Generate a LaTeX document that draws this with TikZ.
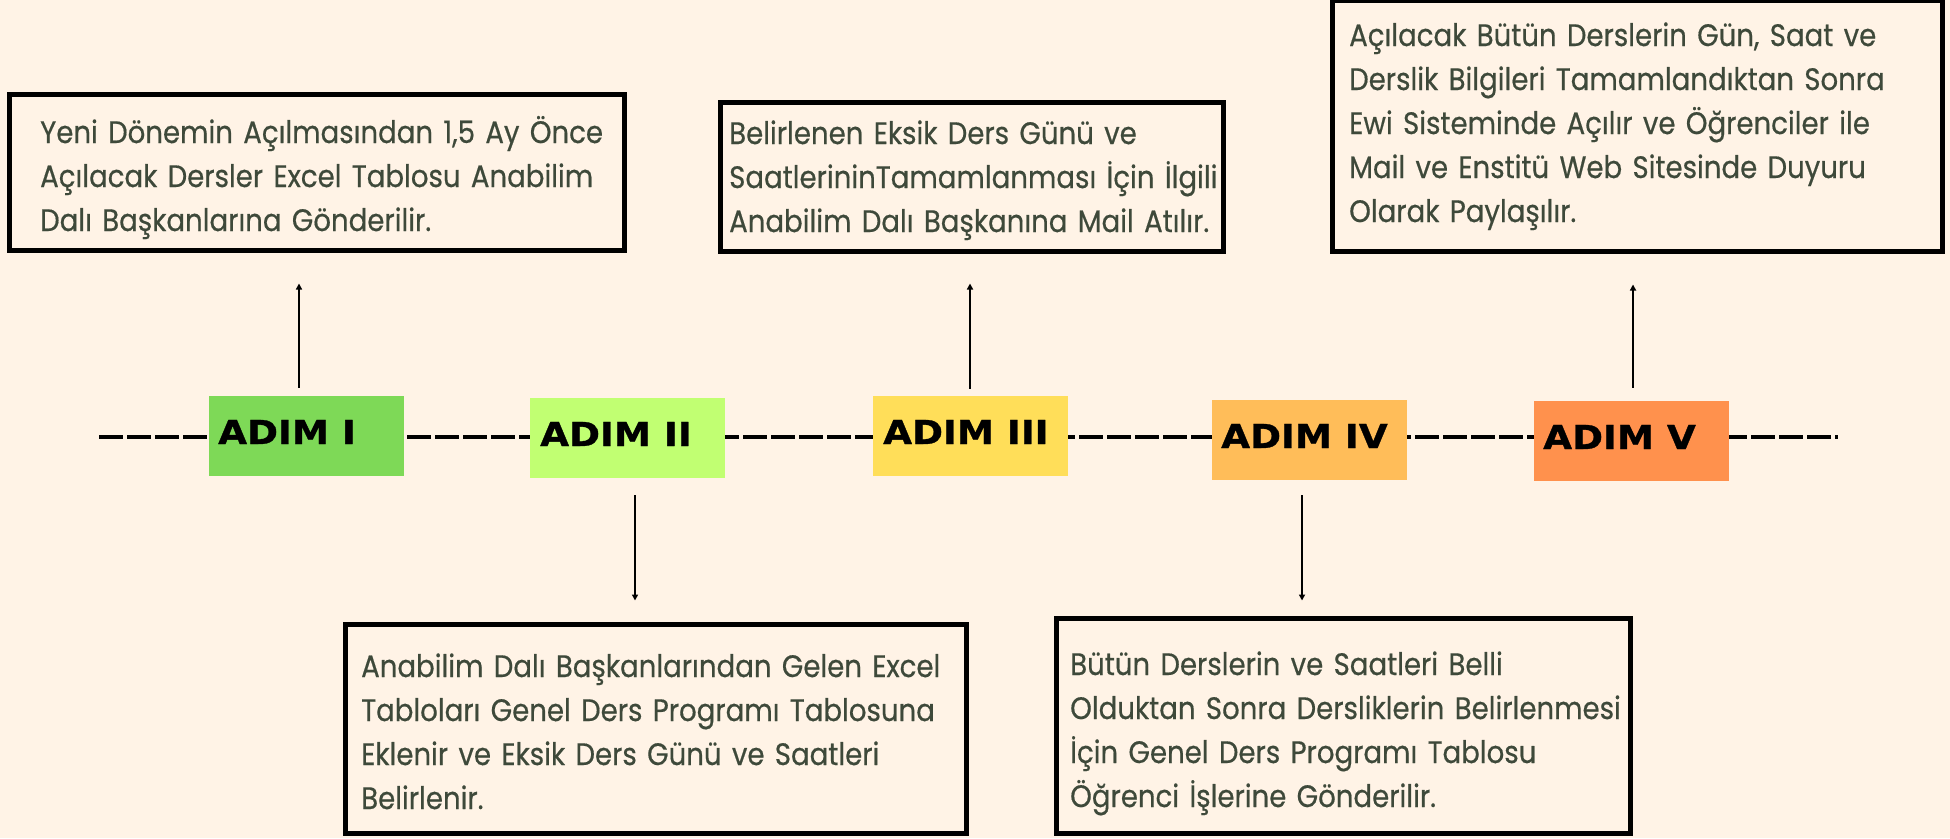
\documentclass[tikz,border=0pt]{standalone}
\usepackage{fontspec}
\setmainfont{Poppins}
\newfontfamily\bodyfont[FakeStretch=0.89,FakeBold=0.5]{Poppins}
\newfontfamily\adimfont[FakeStretch=1.13,FakeBold=1]{DejaVu Sans}
\usetikzlibrary{arrows.meta,calc}
\definecolor{bg}{RGB}{255,243,230}
\definecolor{txt}{RGB}{62,73,58}
\definecolor{cA}{RGB}{126,217,87}
\definecolor{cB}{RGB}{193,255,114}
\definecolor{cC}{RGB}{255,222,89}
\definecolor{cD}{RGB}{255,189,89}
\definecolor{cE}{RGB}{255,145,77}
\begin{document}
\begin{tikzpicture}[x=1pt,y=-1pt,
  descbox/.style={rectangle,draw=black,line width=5pt,fill=bg,inner sep=0pt},
  desctext/.style={anchor=base west,inner sep=0pt,text width=640pt,align=left,text=txt,font=\bodyfont\fontsize{31}{44}\selectfont},
  stepbox/.style={rectangle,inner sep=0pt,minimum width=195pt,minimum height=80pt},
  steptext/.style={anchor=base west,inner sep=0pt,text=black,font=\adimfont\bfseries\fontsize{33}{36}\selectfont},
  conn/.style={line width=2pt,-{Triangle[length=6pt,width=6pt]}},
  timeline/.style={line width=4.5pt,dash pattern=on 24pt off 4pt}]
\useasboundingbox (0,0) rectangle (1950,838);
\fill[bg] (0,0) rectangle (1950,838);
% timeline
\coordinate (tlA) at (99,437);
\coordinate (tlB) at (1838,437);
\draw[timeline] (tlA) -- (tlB);
% step boxes
\node[stepbox,fill=cA] (a1) at (306.5,436) {};
\node[stepbox,fill=cB] (a2) at (627.5,438) {};
\node[stepbox,fill=cC] (a3) at (970.5,436) {};
\node[stepbox,fill=cD] (a4) at (1309.5,440) {};
\node[stepbox,fill=cE] (a5) at (1631.5,441) {};
\node[steptext] (a1t) at (218,444) {ADIM I};
\node[steptext] (a2t) at (540,446) {ADIM II};
\node[steptext] (a3t) at (883,444) {ADIM III};
\node[steptext] (a4t) at (1221,448) {ADIM IV};
\node[steptext] (a5t) at (1543,449) {ADIM V};
% description boxes
\node[descbox,minimum width=615pt,minimum height=156pt] (b1) at (317,172.5) {};
\node[descbox,minimum width=621pt,minimum height=209pt] (b2) at (656,729) {};
\node[descbox,minimum width=503pt,minimum height=149pt] (b3) at (972,177) {};
\node[descbox,minimum width=610pt,minimum height=251pt] (b4) at (1637.5,126) {};
\node[descbox,minimum width=574pt,minimum height=215pt] (b5) at (1343.5,726) {};
\node[desctext] (b1t) at (40,143) {Yeni Dönemin Açılmasından 1,5 Ay Önce\\Açılacak Dersler Excel Tablosu Anabilim\\Dalı Başkanlarına Gönderilir.};
\node[desctext] (b2t) at (361,677) {Anabilim Dalı Başkanlarından Gelen Excel\\Tabloları Genel Ders Programı Tablosuna\\Eklenir ve Eksik Ders Günü ve Saatleri\\Belirlenir.};
\node[desctext] (b3t) at (729,144) {Belirlenen Eksik Ders Günü ve\\SaatlerininTamamlanması İçin İlgili\\Anabilim Dalı Başkanına Mail Atılır.};
\node[desctext] (b4t) at (1349,46) {Açılacak Bütün Derslerin Gün, Saat ve\\Derslik Bilgileri Tamamlandıktan Sonra\\Ewi Sisteminde Açılır ve Öğrenciler ile\\Mail ve Enstitü Web Sitesinde Duyuru\\Olarak Paylaşılır.};
\node[desctext] (b5t) at (1070,675) {Bütün Derslerin ve Saatleri Belli\\Olduktan Sonra Dersliklerin Belirlenmesi\\İçin Genel Ders Programı Tablosu\\Öğrenci İşlerine Gönderilir.};
% connectors
\coordinate (x1) at (299,0);
\coordinate (x2) at (635,0);
\coordinate (x3) at (970,0);
\coordinate (x4) at (1302,0);
\coordinate (x5) at (1633,0);
\draw[conn] ([yshift=8pt]a1.north -| x1) -- ([yshift=-30.5pt]b1.south -| x1);
\draw[conn] ([yshift=-17pt]a2.south -| x2) -- ([yshift=21.5pt]b2.north -| x2);
\draw[conn] ([yshift=7pt]a3.north -| x3) -- ([yshift=-29.5pt]b3.south -| x3);
\draw[conn] ([yshift=-15pt]a4.south -| x4) -- ([yshift=15.5pt]b5.north -| x4);
\draw[conn] ([yshift=13pt]a5.north -| x5) -- ([yshift=-30.5pt]b4.south -| x5);
\end{tikzpicture}
\end{document}
